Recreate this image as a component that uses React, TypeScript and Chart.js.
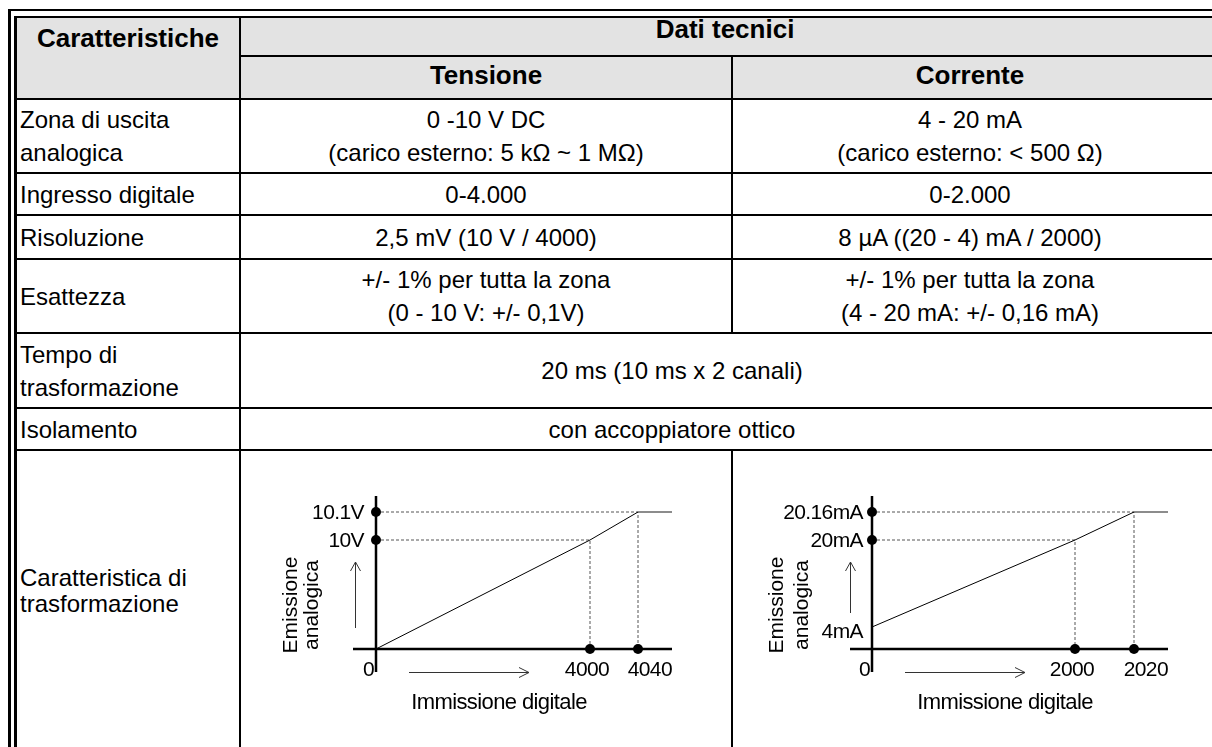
import React, { useEffect, useRef } from 'react';
import { Chart, registerables, LinearScale } from 'chart.js';

Chart.register(...registerables);

// ---------- data ----------
const VOLT_INPUT = [0, 4000, 4040];
const VOLT_OUTPUT = [0, 10, 10.1];
const VOLT_X_LABELS = ['0', '4000', '4040'];
const VOLT_Y_LABELS = ['10V', '10.1V'];

const CURR_INPUT = [0, 2000, 2020];
const CURR_OUTPUT = [4, 20, 20.16];
const CURR_X_LABELS = ['0', '2000', '2020'];
const CURR_Y_LABELS = ['4mA', '20mA', '20.16mA'];

const Y_TITLE = ['Emissione', 'analogica'];
const X_TITLE = 'Immissione digitale';

const HEADER_MAIN = 'Caratteristiche';
const HEADER_GROUP = 'Dati tecnici';
const HEADER_COLS = ['Tensione', 'Corrente'];

const ROW_LABELS = [
  ['Zona di uscita', 'analogica'],
  ['Ingresso digitale'],
  ['Risoluzione'],
  ['Esattezza'],
  ['Tempo di', 'trasformazione'],
  ['Isolamento'],
  ['Caratteristica di', 'trasformazione'],
];
const ROW_VOLT = [
  ['0 -10 V DC', '(carico esterno: 5 kΩ ~ 1 MΩ)'],
  ['0-4.000'],
  ['2,5 mV (10 V / 4000)'],
  ['+/- 1% per tutta la zona', '(0 - 10 V: +/- 0,1V)'],
];
const ROW_CURR = [
  ['4 - 20 mA', '(carico esterno: < 500 Ω)'],
  ['0-2.000'],
  ['8 µA ((20 - 4) mA / 2000)'],
  ['+/- 1% per tutta la zona', '(4 - 20 mA: +/- 0,16 mA)'],
];
const ROW_MERGED = [['20 ms (10 ms x 2 canali)'], ['con accoppiatore ottico']];

// ---------- piecewise (schematic) scale ----------
function interp(v: number, from: number[], to: number[]) {
  const n = from.length;
  if (v <= from[0]) return to[0] + (v - from[0]) * (to[1] - to[0]) / (from[1] - from[0]);
  for (let i = 1; i < n; i++) {
    if (v <= from[i]) {
      return to[i - 1] + (v - from[i - 1]) * (to[i] - to[i - 1]) / (from[i] - from[i - 1]);
    }
  }
  return to[n - 1] + (v - from[n - 1]) * (to[n - 1] - to[n - 2]) / (from[n - 1] - from[n - 2]);
}

class PiecewiseScale extends LinearScale {
  static id = 'piecewise';
  static defaults = LinearScale.defaults;
  getPixelForValue(value: number) {
    const o: any = this.options;
    const f = interp(value, o.breaks, o.stops);
    return this.isHorizontal() ? this.left + f * this.width : this.bottom - f * this.height;
  }
  getValueForPixel(pixel: number) {
    const o: any = this.options;
    const f = this.isHorizontal() ? (pixel - this.left) / this.width : (this.bottom - pixel) / this.height;
    return interp(f, o.stops, o.breaks);
  }
}
Chart.register(PiecewiseScale as any);

const FONT = '"Liberation Sans", Arial, sans-serif';

type Cfg = {
  input: number[];
  output: number[];
  xLabels: string[];
  yLabels: string[];
  yLabelValues: number[];
  yLabelDy: number[];
  xBreaks: number[];
  xStops: number[];
  yBreaks: number[];
  yStops: number[];
  yLabelGap: number;
  upArrow: { dx: number; top: number; bottom: number };
  yTitleDx: number[];
  xTitleDx: number;
  padding: { left: number; right: number; top: number; bottom: number };
};

const VOLT_CFG: Cfg = {
  input: VOLT_INPUT,
  output: VOLT_OUTPUT,
  xLabels: VOLT_X_LABELS,
  yLabels: VOLT_Y_LABELS,
  yLabelValues: [VOLT_OUTPUT[1], VOLT_OUTPUT[2]],
  yLabelDy: [1, 1],
  xBreaks: [-430, 0, 4000, 4040, 4300],
  xStops: [0, 23 / 319, 237 / 319, 285 / 319, 1],
  yBreaks: [-2, 0, 10, 10.1, 10.7],
  yStops: [0, 23 / 176, 132 / 176, 160 / 176, 1],
  yLabelGap: 12,
  upArrow: { dx: -21, top: -87, bottom: -21 },
  yTitleDx: [-85, -64],
  xTitleDx: 123,
  padding: { left: 108, right: 53, top: 41, bottom: 73 },
};

const CURR_CFG: Cfg = {
  input: CURR_INPUT,
  output: CURR_OUTPUT,
  xLabels: CURR_X_LABELS,
  yLabels: CURR_Y_LABELS,
  yLabelValues: CURR_OUTPUT,
  yLabelDy: [5, 1, 1],
  xBreaks: [-220, 0, 2000, 2020, 2150],
  xStops: [0, 22 / 318, 225 / 318, 284 / 318, 1],
  yBreaks: [-2, 0, 4, 20, 20.16, 21],
  yStops: [0, 23 / 176, 45 / 176, 132 / 176, 160 / 176, 1],
  yLabelGap: 9,
  upArrow: { dx: -22, top: -87, bottom: -36 },
  yTitleDx: [-95, -70],
  xTitleDx: 133,
  padding: { left: 113, right: 39, top: 41, bottom: 73 },
};

function SchematicChart({ cfg, left, top, width, height }: { cfg: Cfg; left: number; top: number; width: number; height: number }) {
  const ref = useRef<HTMLCanvasElement>(null);
  useEffect(() => {
    const canvas = ref.current;
    if (!canvas) return;
    const inp = cfg.input;
    const out = cfg.output;
    const xMax = cfg.xBreaks[cfg.xBreaks.length - 1];

    const plugin = {
      id: 'schematic',
      beforeDatasetsDraw(chart: any) {
        const { ctx, chartArea: a, scales } = chart;
        const x0 = scales.x.getPixelForValue(0);
        const y0 = scales.y.getPixelForValue(0);
        ctx.save();
        ctx.strokeStyle = '#000';
        ctx.lineWidth = 2.5;
        ctx.beginPath();
        ctx.moveTo(a.left, y0);
        ctx.lineTo(a.right, y0);
        ctx.moveTo(x0, a.top);
        ctx.lineTo(x0, a.bottom);
        ctx.stroke();
        ctx.restore();
      },
      afterDraw(chart: any) {
        const { ctx, chartArea: a, scales } = chart;
        const xs = scales.x;
        const ys = scales.y;
        const x0 = xs.getPixelForValue(0);
        const y0 = ys.getPixelForValue(0);
        ctx.save();
        ctx.fillStyle = '#000';
        ctx.font = '21px ' + FONT;
        try { (ctx as any).letterSpacing = '-0.6px'; } catch (e) {}
        // y tick labels
        ctx.textAlign = 'right';
        ctx.textBaseline = 'middle';
        cfg.yLabels.forEach((lab, i) => {
          ctx.fillText(lab, x0 - cfg.yLabelGap, ys.getPixelForValue(cfg.yLabelValues[i]) + cfg.yLabelDy[i]);
        });
        // x tick labels
        const ly = y0 + 21;
        cfg.xLabels.forEach((lab, i) => {
          const px = xs.getPixelForValue(inp[i]);
          if (i === 0) {
            ctx.textAlign = 'right';
            ctx.fillText(lab, px - 2, ly);
          } else if (i === cfg.xLabels.length - 1) {
            ctx.textAlign = 'right';
            ctx.fillText(lab, a.right, ly);
          } else {
            ctx.textAlign = 'center';
            ctx.fillText(lab, px - 3, ly);
          }
        });
        // x title
        ctx.textAlign = 'center';
        ctx.font = '22px ' + FONT;
        ctx.fillText(X_TITLE, x0 + cfg.xTitleDx, y0 + 54);
        // y title (rotated)
        ctx.font = '21px ' + FONT;
        try { (ctx as any).letterSpacing = '0px'; } catch (e) {}
        Y_TITLE.forEach((t, i) => {
          ctx.save();
          ctx.translate(x0 + cfg.yTitleDx[i], y0 - 44);
          ctx.rotate(-Math.PI / 2);
          ctx.textAlign = 'center';
          ctx.textBaseline = 'middle';
          ctx.fillText(t, 0, 0);
          ctx.restore();
        });
        // arrows
        ctx.strokeStyle = '#333';
        ctx.lineWidth = 1;
        const ax = x0 + cfg.upArrow.dx + 0.5;
        const aTop = y0 + cfg.upArrow.top;
        const aBot = y0 + cfg.upArrow.bottom;
        ctx.beginPath();
        ctx.moveTo(ax, aBot);
        ctx.lineTo(ax, aTop);
        ctx.moveTo(ax - 5, aTop + 9);
        ctx.lineTo(ax, aTop);
        ctx.lineTo(ax + 5, aTop + 9);
        const ry = y0 + 23 + 0.5;
        const rL = x0 + 33;
        const rR = x0 + 153;
        ctx.moveTo(rL, ry);
        ctx.lineTo(rR, ry);
        ctx.moveTo(rR - 10, ry - 5);
        ctx.lineTo(rR, ry);
        ctx.lineTo(rR - 10, ry + 5);
        ctx.stroke();
        ctx.restore();
      },
    };

    const dash = {
      borderColor: '#555',
      borderWidth: 1,
      borderDash: [3, 2],
      pointRadius: 0,
      fill: false,
      tension: 0,
    };

    const chart = new Chart(canvas, {
      type: 'line',
      data: {
        datasets: [
          {
            type: 'scatter',
            data: [
              { x: 0, y: out[1] },
              { x: 0, y: out[2] },
              { x: inp[1], y: 0 },
              { x: inp[2], y: 0 },
            ],
            pointRadius: 5,
            pointBackgroundColor: '#000',
            pointBorderWidth: 0,
            showLine: false,
          } as any,
          {
            data: inp.map((v, i) => ({ x: v, y: out[i] })),
            borderColor: '#000',
            borderWidth: 1,
            pointRadius: 0,
            fill: false,
            tension: 0,
          },
          {
            data: [
              { x: inp[2], y: out[2] },
              { x: xMax, y: out[2] },
            ],
            borderColor: '#666',
            borderWidth: 1.5,
            pointRadius: 0,
            fill: false,
          },
          {
            ...dash,
            data: [
              { x: 0, y: out[1] },
              { x: inp[1], y: out[1] },
              { x: inp[1], y: 0 },
            ],
          },
          {
            ...dash,
            data: [
              { x: 0, y: out[2] },
              { x: inp[2], y: out[2] },
              { x: inp[2], y: 0 },
            ],
          },
        ],
      },
      options: {
        animation: false,
        responsive: false,
        maintainAspectRatio: false,
        layout: { padding: cfg.padding },
        plugins: { legend: { display: false }, tooltip: { enabled: false } },
        events: [],
        scales: {
          x: {
            type: 'piecewise' as any,
            min: cfg.xBreaks[0],
            max: xMax,
            breaks: cfg.xBreaks,
            stops: cfg.xStops,
            display: false,
          } as any,
          y: {
            type: 'piecewise' as any,
            min: cfg.yBreaks[0],
            max: cfg.yBreaks[cfg.yBreaks.length - 1],
            breaks: cfg.yBreaks,
            stops: cfg.yStops,
            display: false,
          } as any,
        },
      } as any,
      plugins: [plugin],
    });
    (chart.data.datasets as any[]).forEach((d) => (d.clip = false));
    chart.update();
    return () => chart.destroy();
  }, [cfg]);
  return (
    <canvas
      ref={ref}
      width={width}
      height={height}
      style={{ position: 'absolute', left, top, width, height }}
    />
  );
}

// ---------- table layout ----------
const H_LINES: [number, number, number, number][] = [
  // x1, x2, y, thickness
  [8, 1212, 9, 2],
  [14, 1212, 16, 2],
  [240, 1212, 55, 2],
  [14, 1212, 98, 2],
  [14, 1212, 172, 2],
  [14, 1212, 214, 2],
  [14, 1212, 258, 2],
  [14, 1212, 332, 2],
  [14, 1212, 407, 2],
  [14, 1212, 449, 2],
];
const V_LINES: [number, number, number, number][] = [
  // x, y1, y2, thickness
  [8, 9, 747, 3],
  [14, 16, 747, 3],
  [239, 16, 747, 2],
  [731, 55, 334, 2],
  [731, 449, 747, 2],
];
const ROW_BOUNDS = [[100, 172], [174, 214], [216, 258], [260, 332], [334, 407], [409, 449], [451, 731]];
const ROW_LH = [33, 27, 27, 33, 33, 27, 26];

function Cell({ x1, x2, y1, y2, lines, align = 'center', bold = false, lh = 27, size = 24 }: any) {
  return (
    <div
      style={{
        position: 'absolute',
        display: 'flex',
        flexDirection: 'column',
        justifyContent: 'center',
        fontFamily: FONT,
        color: '#000',
        whiteSpace: 'nowrap',
        left: x1,
        top: y1,
        width: x2 - x1,
        height: y2 - y1,
        alignItems: align === 'left' ? 'flex-start' : 'center',
        textAlign: align,
        fontWeight: bold ? 'bold' : 'normal',
        fontSize: size,
        lineHeight: lh + 'px',
      }}
    >
      {lines.map((l: string, i: number) => (
        <div key={i}>{l}</div>
      ))}
    </div>
  );
}

export default function App() {
  return (
    <div
      style={{
        position: 'fixed',
        left: 0,
        top: 0,
        width: 1212,
        height: 747,
        overflow: 'hidden',
        background: '#fff',
      }}
    >
      <div style={{ position: 'absolute', left: 17, top: 18, width: 1200, height: 80, background: '#e3e3e3' }} />
      {H_LINES.map(([x1, x2, y, t], i) => (
        <div key={'h' + i} style={{ position: 'absolute', left: x1, top: y, width: x2 - x1, height: t, background: '#000' }} />
      ))}
      {V_LINES.map(([x, y1, y2, t], i) => (
        <div key={'v' + i} style={{ position: 'absolute', left: x, top: y1, width: t, height: y2 - y1, background: '#000' }} />
      ))}

      <Cell x1={17} x2={239} y1={18} y2={58} lines={[HEADER_MAIN]} bold size={26} />
      <Cell x1={241} x2={1209} y1={12} y2={46} lines={[HEADER_GROUP]} bold size={26} />
      <Cell x1={241} x2={731} y1={55} y2={95} lines={[HEADER_COLS[0]]} bold size={26} />
      <Cell x1={733} x2={1207} y1={55} y2={95} lines={[HEADER_COLS[1]]} bold size={26} />

      {ROW_LABELS.map((lines, i) => (
        <Cell key={'l' + i} x1={20} x2={239} y1={ROW_BOUNDS[i][0]} y2={ROW_BOUNDS[i][1]} lines={lines} align="left" lh={ROW_LH[i]} />
      ))}
      {ROW_VOLT.map((lines, i) => (
        <Cell key={'v' + i} x1={241} x2={731} y1={ROW_BOUNDS[i][0]} y2={ROW_BOUNDS[i][1]} lines={lines} lh={ROW_LH[i]} />
      ))}
      {ROW_CURR.map((lines, i) => (
        <Cell key={'c' + i} x1={733} x2={1207} y1={ROW_BOUNDS[i][0]} y2={ROW_BOUNDS[i][1]} lines={lines} lh={ROW_LH[i]} />
      ))}
      {ROW_MERGED.map((lines, i) => (
        <Cell key={'m' + i} x1={241} x2={1103} y1={ROW_BOUNDS[i + 4][0]} y2={ROW_BOUNDS[i + 4][1]} lines={lines} lh={ROW_LH[i + 4]} />
      ))}

      <SchematicChart cfg={VOLT_CFG} left={245} top={455} width={480} height={290} />
      <SchematicChart cfg={CURR_CFG} left={737} top={455} width={470} height={290} />
    </div>
  );
}
